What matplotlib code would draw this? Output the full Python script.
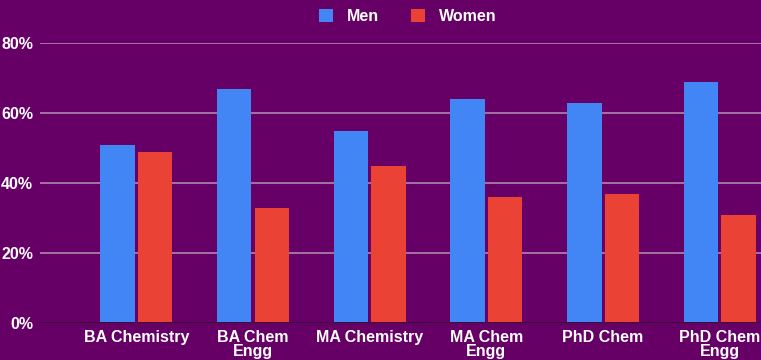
import numpy as np
import matplotlib.pyplot as plt
from matplotlib.ticker import FuncFormatter

categories = ['BA Chemistry', 'BA Chem\nEngg', 'MA Chemistry', 'MA Chem\nEngg', 'PhD Chem', 'PhD Chem\nEngg']
men = [51, 67, 55, 64, 63, 69]
women = [49, 33, 45, 36, 37, 31]

bg = '#660066'
plt.rcParams['font.family'] = ['Liberation Sans', 'DejaVu Sans']

fig = plt.figure(figsize=(7.61, 3.6), dpi=100, facecolor=bg)
ax = fig.add_axes([40 / 761, 1 - 323.3 / 360, 1 - 40 / 761, (323.3 - 43.3) / 360])
ax.set_facecolor(bg)

x = np.arange(len(categories))
w = 0.296
ax.bar(x - w / 2 - 0.013, men, w, color='#4285F4', label='Men', zorder=3)
ax.bar(x + w / 2 + 0.013, women, w, color='#EA4335', label='Women', zorder=3)

ax.set_xlim(-0.825, 5.353)
ax.set_ylim(0, 80)
ax.set_yticks([0, 20, 40, 60, 80])
ax.yaxis.set_major_formatter(FuncFormatter(lambda v, p: f'{int(v)}%'))
ax.grid(axis='y', color='#ad87ad', linewidth=1.2, zorder=0)
ax.axhline(0, color='#2a0a2a', linewidth=1.3, zorder=4)

ax.set_xticks(x)
ax.set_xticklabels(categories, linespacing=0.92)
ax.tick_params(axis='both', length=0, colors='white', labelsize=11.5)
ax.tick_params(axis='y', pad=5)
ax.tick_params(axis='x', pad=5)
for lbl in ax.get_xticklabels() + ax.get_yticklabels():
    lbl.set_fontweight('bold')
for s in ax.spines.values():
    s.set_visible(False)

leg = fig.legend(loc='center', bbox_to_anchor=(0.536, 0.955), ncol=2, frameon=False,
                 handlelength=0.85, handleheight=0.85, columnspacing=2.0, handletextpad=0.9,
                 fontsize=11.5)
for t in leg.get_texts():
    t.set_color('white')
    t.set_fontweight('bold')

fig.savefig('out.png', dpi=100, facecolor=bg)
